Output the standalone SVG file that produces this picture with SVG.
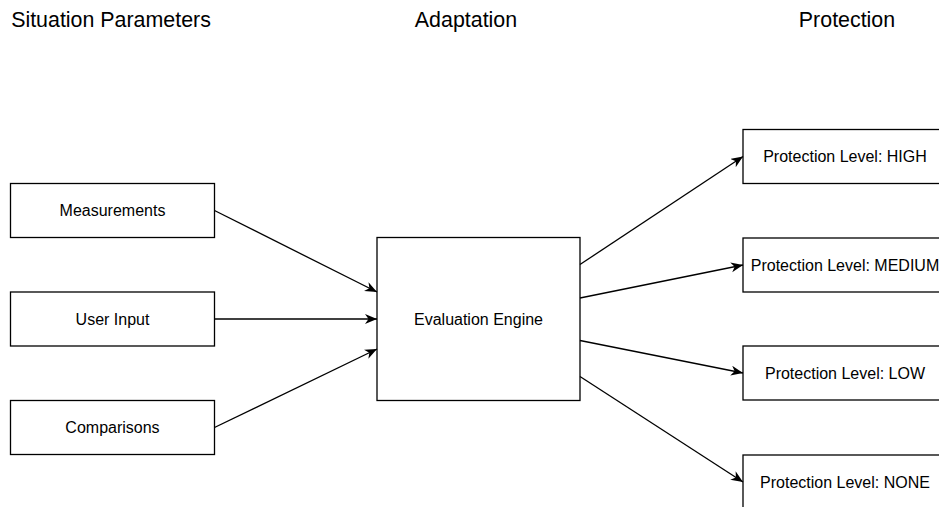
<svg xmlns="http://www.w3.org/2000/svg" width="939" height="507" viewBox="0 0 939 507">
  <style>
    .box { fill: #ffffff; stroke: #000000; stroke-width: 1.3; }
    .label { font-family: "Liberation Sans", Arial, Helvetica, sans-serif; font-size: 16px; fill: #000000; text-anchor: middle; }
    .title { font-family: "Liberation Sans", Arial, Helvetica, sans-serif; font-size: 21.4px; fill: #000000; text-anchor: middle; }
    .edge { fill: none; stroke: #000000; stroke-width: 1.3; marker-end: url(#arrow); }
  </style>
  <defs>
    <marker id="arrow" markerUnits="userSpaceOnUse" markerWidth="13" markerHeight="11" refX="12" refY="5" orient="auto">
      <path d="M0,0 L12,5 L0,10 L3.5,5 Z" fill="#000000"/>
    </marker>
  </defs>

  <!-- column headings -->
  <g id="headings">
    <text class="title" x="111" y="27">Situation Parameters</text>
    <text class="title" x="466" y="27">Adaptation</text>
    <text class="title" x="847" y="27">Protection</text>
  </g>

  <!-- inputs -->
  <g id="measurements">
    <rect class="box" x="10.5" y="183.5" width="204" height="54"/>
    <text class="label" x="112.5" y="216.3">Measurements</text>
  </g>
  <g id="user-input">
    <rect class="box" x="10.5" y="292" width="204" height="54"/>
    <text class="label" x="112.5" y="324.8">User Input</text>
  </g>
  <g id="comparisons">
    <rect class="box" x="10.5" y="400.5" width="204" height="54"/>
    <text class="label" x="112.5" y="433.3">Comparisons</text>
  </g>

  <!-- engine -->
  <g id="evaluation-engine">
    <rect class="box" x="377" y="237.5" width="203" height="163"/>
    <text class="label" x="478.5" y="324.5">Evaluation Engine</text>
  </g>

  <!-- protection levels -->
  <g id="level-high">
    <rect class="box" x="743" y="129.5" width="204" height="54"/>
    <text class="label" x="845" y="162.3">Protection Level: HIGH</text>
  </g>
  <g id="level-medium">
    <rect class="box" x="743" y="238" width="204" height="54"/>
    <text class="label" x="845" y="270.8">Protection Level: MEDIUM</text>
  </g>
  <g id="level-low">
    <rect class="box" x="743" y="346" width="204" height="54"/>
    <text class="label" x="845" y="378.8">Protection Level: LOW</text>
  </g>
  <g id="level-none">
    <rect class="box" x="743" y="455" width="204" height="54"/>
    <text class="label" x="845" y="487.8">Protection Level: NONE</text>
  </g>

  <!-- connectors -->
  <g id="connectors">
    <line class="edge" x1="214.5" y1="210.5" x2="377" y2="292"/>
    <line class="edge" x1="214.5" y1="319" x2="377" y2="319"/>
    <line class="edge" x1="214.5" y1="427.5" x2="377" y2="349"/>
    <line class="edge" x1="580" y1="264.5" x2="743" y2="156.5"/>
    <line class="edge" x1="580" y1="298" x2="743" y2="265"/>
    <line class="edge" x1="580" y1="340.5" x2="743" y2="373"/>
    <line class="edge" x1="580" y1="376.5" x2="743" y2="482"/>
  </g>
</svg>
